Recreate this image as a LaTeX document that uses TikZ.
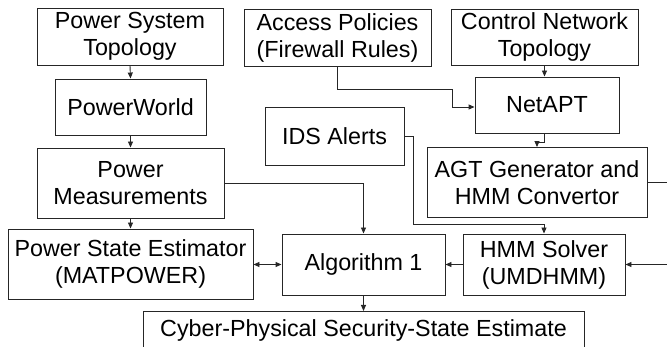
\documentclass[tikz,border=0pt]{standalone}
\usepackage{fontspec}
\setmainfont{Liberation Sans}
\usetikzlibrary{arrows.meta}
\begin{document}
\begin{tikzpicture}[x=1pt,y=-1pt,
  box/.style={draw=black!85,line width=0.9pt,rectangle,inner sep=0pt,align=center,
    font=\fontsize{23.3}{27}\selectfont},
  conn/.style={draw=black!85,line width=0.9pt},
  arr/.style={conn,-{Triangle[length=6pt,width=5pt]}},
  darr/.style={conn,{Triangle[length=6pt,width=5pt]}-{Triangle[length=6pt,width=5pt]}}]
\useasboundingbox (0,0) rectangle (667,347);
\clip (0,0) rectangle (667,347);
\node[box,minimum width=186pt,minimum height=57pt] (pst) at (130,36.5) {Power System\\Topology};
\node[box,minimum width=151pt,minimum height=56pt] (pw) at (130.5,107) {PowerWorld};
\node[box,minimum width=187pt,minimum height=70pt] (pm) at (130.5,183) {Power\\Measurements};
\node[box,minimum width=245pt,minimum height=70pt] (pse) at (130.5,264) {Power State Estimator\\(MATPOWER)};
\node[box,minimum width=163pt,minimum height=61pt] (alg) at (363.5,264.5) {Algorithm 1};
\node[box,minimum width=441pt,minimum height=45pt,anchor=north] (cps) at (363.5,311) {};
\node[font=\fontsize{23.3}{27}\selectfont] (cpst) at (363.5,330) {Cyber-Physical Security-State Estimate};
\node[box,minimum width=187pt,minimum height=57pt] (ap) at (337.5,37.5) {Access Policies\\(Firewall Rules)};
\node[box,minimum width=187pt,minimum height=56pt] (cnt) at (544.5,37) {Control Network\\Topology};
\node[box,minimum width=144pt,minimum height=56pt] (net) at (547,105) {NetAPT};
\node[box,minimum width=139pt,minimum height=58pt] (ids) at (334.5,136) {IDS Alerts};
\node[box,minimum width=220pt,minimum height=70pt] (agt) at (537,182.5) {AGT Generator and\\HMM Convertor};
\node[box,minimum width=162pt,minimum height=61pt] (hmm) at (544,264.5) {HMM Solver\\(UMDHMM)};
\coordinate (j1) at (452,89);
\coordinate (j2) at (537,142);
\coordinate (j3) at (413,224);
\coordinate (j4) at (690,182.5);
\coordinate (j5) at (690,264.5);
\draw[arr] (pst.south) -- (pw.north);
\draw[arr] (pw.south) -- (pw.south |- pm.north);
\draw[arr] (pm.south) -- (pm.south |- pse.north);
\draw[arr] (pm.east) -| (alg.north);
\draw[darr] (pse.east |- alg.west) -- (alg.west);
\draw[arr] (hmm.west) -- (alg.east);
\draw[arr] (alg.south) -- (cps.north);
\draw[arr] (ap.south) |- (j1) |- ([yshift=-2pt]net.west);
\draw[arr] (cnt.south) -- (cnt.south |- net.north);
\draw[arr] (net.south -| cnt.south) |- (j2) -- (agt.north);
\draw[arr] (ids.east) -| (j3) -| (hmm.north);
\draw[arr] (agt.east) -- (j4) -- (j5) -- (hmm.east);
\end{tikzpicture}
\end{document}
